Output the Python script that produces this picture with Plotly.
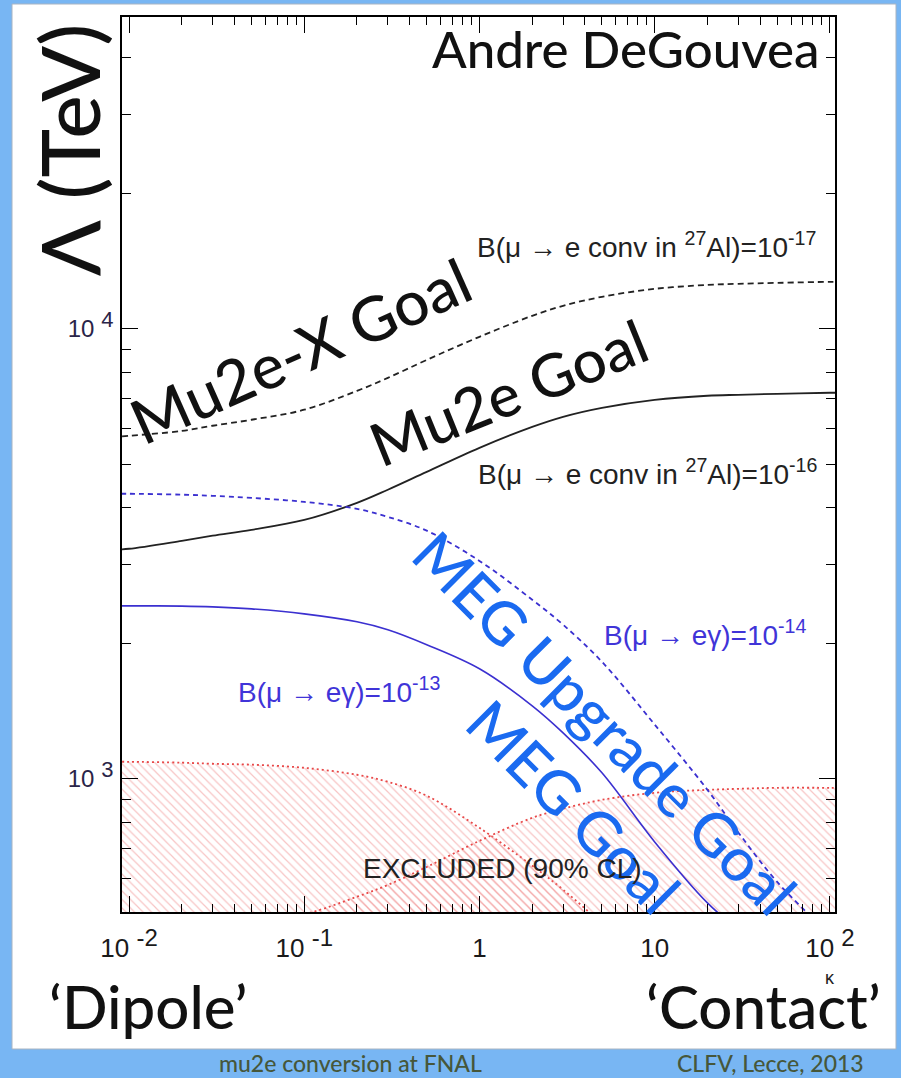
import plotly.graph_objects as go

# ---------------------------------------------------------------------------
# Reach in new-physics scale Lambda (TeV) versus kappa
# ---------------------------------------------------------------------------
KAPPA = [0.008, 0.01, 0.02, 0.03, 0.05, 0.1, 0.2, 0.3, 0.5, 1, 2, 3, 5,
         10, 20, 30, 50, 100, 120]

# B(mu -> e conv in 27Al) = 1e-17  (Mu2e-X goal)
MU2E_X_GOAL = [5750, 5785, 5930, 6090, 6280, 6610, 7280, 7780, 8530, 9600,
               10690, 11250, 11780, 12270, 12520, 12590, 12650, 12720, 12720]
# B(mu -> e conv in 27Al) = 1e-16  (Mu2e goal)
MU2E_GOAL = [3230, 3245, 3380, 3470, 3575, 3760, 4105, 4390, 4810, 5440,
             6055, 6375, 6675, 6955, 7100, 7135, 7170, 7210, 7210]
# B(mu -> e gamma) = 1e-14  (MEG upgrade goal)
MEG_UPGRADE_GOAL = [4300, 4300, 4280, 4255, 4210, 4125, 3980, 3820, 3560,
                    3050, 2500, 2200, 1820, 1320, 945, 760, 590, 450, 420]
# B(mu -> e gamma) = 1e-13  (MEG goal)
MEG_GOAL = [2423, 2423, 2420, 2411, 2386, 2326, 2233, 2144, 1986, 1756,
            1453, 1265, 1031, 724, 530, 462, 396, 323, 307]

# Excluded regions (90% CL)
KAPPA_EXCL_MEG = [0.008, 0.01, 0.02, 0.03, 0.05, 0.1, 0.2, 0.3, 0.5, 1, 2,
                  3, 5, 10]
EXCL_MEG = [1091, 1091, 1086, 1080, 1075, 1058, 1021, 985, 917, 778, 641,
            567, 474, 348]
EXCL_CONV = [433, 435, 454, 466, 480, 500, 547, 581, 637, 728, 819, 858,
             898, 931, 945, 950, 955, 955, 955]

X_TICKS = [0.01, 0.1, 1, 10, 100]
X_TICK_TEXT = ["10 <sup><span style='font-size:24px'>-2</span></sup>",
               "10 <sup><span style='font-size:24px'>-1</span></sup>",
               "1", "10",
               "10 <sup><span style='font-size:24px'>2</span></sup>"]
Y_TICKS = [1000, 10000]
Y_TICK_TEXT = ["10 <sup><span style='font-size:22px'>3</span></sup>",
               "10 <sup><span style='font-size:22px'>4</span></sup>"]

X_MINOR = [m * 10 ** e for e in range(-2, 2) for m in range(2, 10)]
Y_MINOR = [m * 10 ** e for e in range(2, 5) for m in range(2, 10)]

# ---------------------------------------------------------------------------
W, H = 901, 1078
ML, MR, MT, MB = 122, 66, 17, 166


def px(x):
    return (x - ML) / (W - ML - MR)


def py(y):
    return (H - MB - y) / (H - MT - MB)


BLACK = "#111111"
EXCL_RED = "#e84848"
LINE_BLUE = "#3b30d0"
TEXT_BLUE = "#1a6af0"
LABEL_BLUE = "#4034d8"
SLIDE_BLUE = "#78b6f3"
TITLE_FONT = "Lato"
ROOT_FONT = "Liberation Sans"

fig = go.Figure()

hatch = dict(shape="\\", fgcolor="#f08a8a", bgcolor="rgba(0,0,0,0)",
             size=6, solidity=0.2)

fig.add_trace(go.Scatter(
    x=KAPPA_EXCL_MEG, y=EXCL_MEG, mode="lines", fill="tozeroy",
    fillcolor="rgba(0,0,0,0)", fillpattern=hatch,
    line=dict(color=EXCL_RED, width=1.8, dash="2px,3px"),
    line_shape="spline", hoverinfo="skip", showlegend=False))
fig.add_trace(go.Scatter(
    x=KAPPA, y=EXCL_CONV, mode="lines", fill="tozeroy",
    fillcolor="rgba(0,0,0,0)", fillpattern=hatch,
    line=dict(color=EXCL_RED, width=1.8, dash="2px,3px"),
    line_shape="spline", hoverinfo="skip", showlegend=False))

fig.add_trace(go.Scatter(
    x=KAPPA, y=MU2E_X_GOAL, mode="lines", line_shape="spline",
    line=dict(color="#222222", width=1.8, dash="6px,4px"), showlegend=False))
fig.add_trace(go.Scatter(
    x=KAPPA, y=MU2E_GOAL, mode="lines", line_shape="spline",
    line=dict(color="#222222", width=1.8), showlegend=False))
fig.add_trace(go.Scatter(
    x=KAPPA, y=MEG_UPGRADE_GOAL, mode="lines", line_shape="spline",
    line=dict(color=LINE_BLUE, width=1.8, dash="5px,4px"), showlegend=False))
fig.add_trace(go.Scatter(
    x=KAPPA, y=MEG_GOAL, mode="lines", line_shape="spline",
    line=dict(color=LINE_BLUE, width=1.6), showlegend=False))

axis_common = dict(
    type="log", showgrid=False, zeroline=False, showline=True,
    linecolor="black", linewidth=1.6, mirror="ticks", ticks="inside",
    tickcolor="black", tickwidth=1.4, ticklen=16,
)

fig.update_xaxes(
    **axis_common, range=[-2.04, 2.029], tickmode="array",
    tickvals=X_TICKS, ticktext=X_TICK_TEXT, ticklabelstandoff=12,
    tickfont=dict(family=ROOT_FONT, size=26, color="#1a1a1a"),
    minor=dict(tickmode="array", tickvals=X_MINOR, ticks="inside",
               ticklen=8, tickwidth=1.2, tickcolor="black", showgrid=False))
fig.update_yaxes(
    **axis_common, range=[2.704, 4.693], tickmode="array",
    tickvals=Y_TICKS, ticktext=Y_TICK_TEXT, ticklabelstandoff=2,
    tickfont=dict(family=ROOT_FONT, size=24, color="#2a2448"),
    minor=dict(tickmode="array", tickvals=Y_MINOR, ticks="inside",
               ticklen=9, tickwidth=1.2, tickcolor="black", showgrid=False))

annotations = [
    dict(text="Andre DeGouvea", x=625, y=48, size=51, color=BLACK,
         family=TITLE_FONT, angle=0, weight=500),
    dict(text="Λ (TeV)", x=68, y=150, size=82, color=BLACK,
         family=TITLE_FONT, angle=-90, weight=500),
    dict(text="Mu2e-X Goal", x=300, y=350, size=62, color=BLACK,
         family=TITLE_FONT, angle=-24, weight=500),
    dict(text="Mu2e Goal", x=508, y=392, size=60, color=BLACK,
         family=TITLE_FONT, angle=-22, weight=500),
    dict(text="MEG Upgrade Goal", x=605, y=722, size=60, color=TEXT_BLUE,
         family=TITLE_FONT, angle=45, weight=500),
    dict(text="MEG Goal", x=574, y=806, size=60, color=TEXT_BLUE,
         family=TITLE_FONT, angle=45, weight=500),
    dict(text="B(μ → e conv in <sup>27</sup>Al)=10<sup>-17</sup>",
         x=646, y=245, size=28, color="#222222", family=ROOT_FONT, angle=0,
         weight=400),
    dict(text="B(μ → e conv in <sup>27</sup>Al)=10<sup>-16</sup>",
         x=647, y=472, size=28, color="#222222", family=ROOT_FONT, angle=0,
         weight=400),
    dict(text="B(μ → eγ)=10<sup>-14</sup>", x=705, y=633, size=28,
         color=LABEL_BLUE, family=ROOT_FONT, angle=0, weight=400),
    dict(text="B(μ → eγ)=10<sup>-13</sup>", x=339, y=690, size=28,
         color=LABEL_BLUE, family=ROOT_FONT, angle=0, weight=400),
    dict(text="EXCLUDED (90% CL)", x=502, y=868, size=28, color="#222222",
         family=ROOT_FONT, angle=0, weight=400),
    dict(text="κ", x=830, y=978, size=18, color="#222222",
         family=ROOT_FONT, angle=0, weight=400),
    dict(text="‘Dipole’", x=148, y=1006, size=60, color=BLACK,
         family=TITLE_FONT, angle=0, weight=500),
    dict(text="‘Contact’", x=763, y=1006, size=60, color=BLACK,
         family=TITLE_FONT, angle=0, weight=500),
    dict(text="mu2e conversion at FNAL", x=350, y=1063, size=23,
         color="#46573a", family=TITLE_FONT, angle=0, weight=500),
    dict(text="CLFV, Lecce, 2013", x=770, y=1063, size=23,
         color="#46573a", family=TITLE_FONT, angle=0, weight=500),
]
for a in annotations:
    fig.add_annotation(
        text=a["text"], x=px(a["x"]), y=py(a["y"]), xref="paper",
        yref="paper", xanchor="center", yanchor="middle", showarrow=False,
        textangle=a["angle"],
        font=dict(family=a["family"], size=a["size"], color=a["color"],
                  weight=a["weight"]))

# slide panel behind the plot
fig.add_shape(type="rect", xref="paper", yref="paper", layer="below",
              x0=px(12), x1=px(896), y0=py(1049), y1=py(4),
              fillcolor="white", line=dict(color="#a8b4c2", width=1))

fig.update_layout(
    width=W, height=H, autosize=False,
    margin=dict(l=ML, r=MR, t=MT, b=MB, pad=0),
    paper_bgcolor=SLIDE_BLUE, plot_bgcolor="white",
    showlegend=False,
)

fig.write_html("out.html")
